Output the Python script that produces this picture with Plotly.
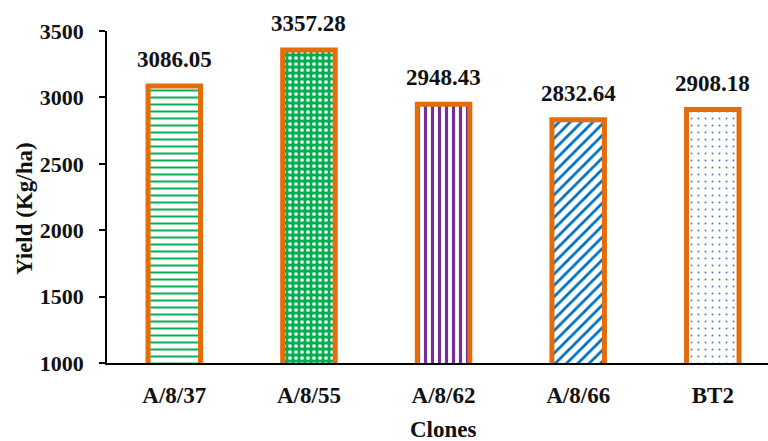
import plotly.graph_objects as go

# Yield by clone
clones = ["A/8/37", "A/8/55", "A/8/62", "A/8/66", "BT2"]
yields = [3086.05, 3357.28, 2948.43, 2832.64, 2908.18]

# Fill patterns per bar
shapes = ["-", ".", "|", "/", "."]
fg_colors = ["#00B050", "#FFFFFF", "#7030A0", "#0070C0", "#3F7FCC"]
bg_colors = ["#FFFFFF", "#00B050", "#FFFFFF", "#FFFFFF", "#FFFFFF"]
pat_sizes = [7, 6, 7, 8, 7]
pat_solidity = [0.28, 0.3, 0.45, 0.35, 0.06]

outline = "#E46C0A"
serif = "Liberation Serif"
ink = "#111111"

fig = go.Figure()
for i, (name, v) in enumerate(zip(clones, yields)):
    fig.add_trace(go.Bar(
        x=[i], y=[v], name=name,
        width=0.39,
        marker=dict(
            color=bg_colors[i],
            line=dict(color=outline, width=5),
            pattern=dict(
                shape=shapes[i],
                fgcolor=fg_colors[i],
                bgcolor=bg_colors[i],
                size=pat_sizes[i],
                solidity=pat_solidity[i],
                fillmode="replace",
            ),
        ),
        showlegend=False,
    ))
    # Value label above the bar
    fig.add_annotation(
        x=i, y=v, text=f"{v:.2f}", showarrow=False,
        yanchor="bottom", yshift=12,
        font=dict(family=serif, size=23, color=ink, weight="bold"),
    )

# Axis titles
fig.add_annotation(
    x=2, y=0, xref="x", yref="paper", yanchor="top", yshift=-52,
    text="<b>Clones</b>", showarrow=False,
    font=dict(family=serif, size=23, color=ink),
)
fig.add_annotation(
    x=0, y=0.5, xref="paper", yref="paper", xanchor="center", yanchor="middle",
    xshift=-83, yshift=-12, textangle=-90,
    text="<b>Yield (Kg/ha)</b>", showarrow=False,
    font=dict(family=serif, size=23, color=ink),
)

ytick_vals = [1000, 1500, 2000, 2500, 3000, 3500]

fig.update_layout(
    width=768, height=441,
    margin=dict(l=107, r=0, t=31, b=78),
    paper_bgcolor="white", plot_bgcolor="white",
    barmode="overlay",
    xaxis=dict(
        range=[-0.5, 4.41],
        tickmode="array",
        tickvals=list(range(len(clones))),
        ticktext=[f"<b>{c}</b>" for c in clones],
        ticks="outside", ticklen=11, tickcolor="rgba(0,0,0,0)",
        showline=True, linecolor="black", linewidth=1.5,
        showgrid=False, zeroline=False,
        tickfont=dict(family=serif, size=23, color=ink),
    ),
    yaxis=dict(
        range=[1000, 3500],
        tickvals=ytick_vals,
        ticktext=[f"<b>{t}</b>" for t in ytick_vals],
        ticks="outside", ticklen=6, tickcolor="black", tickwidth=1.5,
        ticklabelstandoff=11,
        showline=True, linecolor="black", linewidth=1.5,
        showgrid=False, zeroline=False,
        tickfont=dict(family=serif, size=22, color=ink),
    ),
)

fig.write_html("out.html")
